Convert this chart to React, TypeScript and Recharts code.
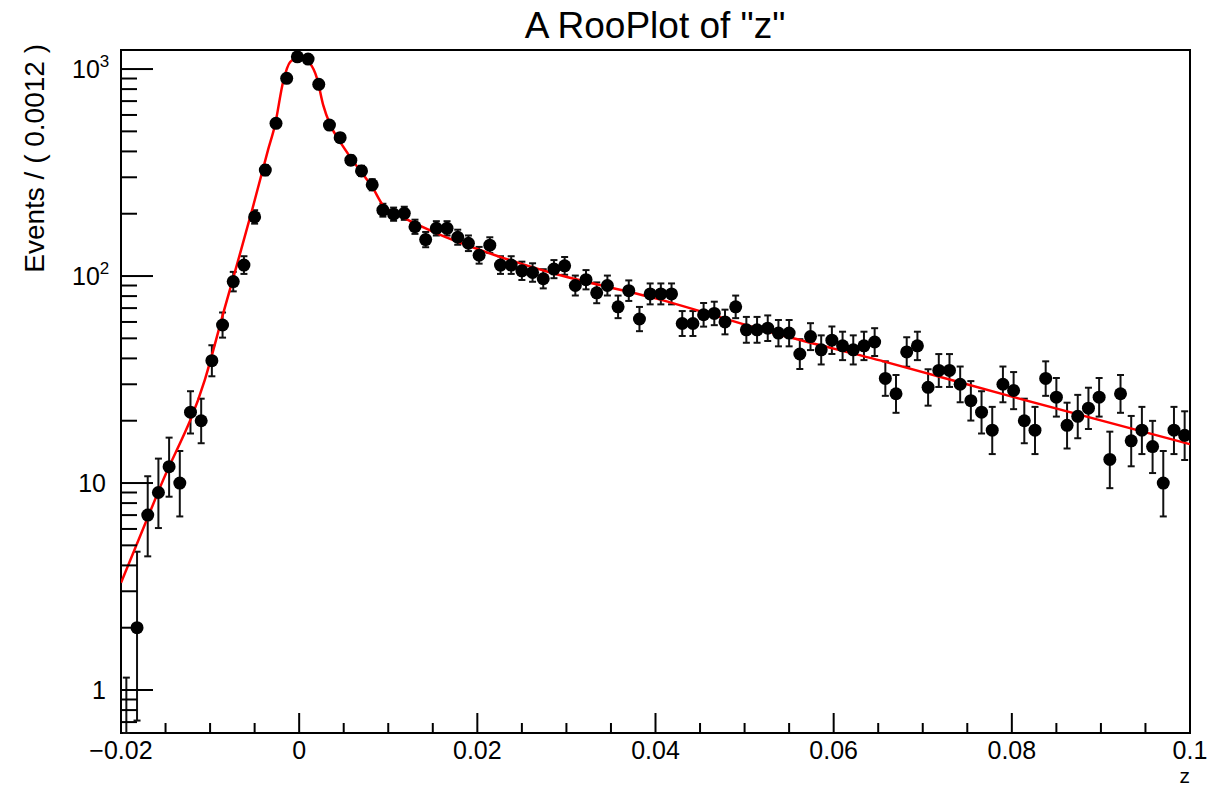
import React from 'react';
import { ComposedChart, XAxis, YAxis, Scatter, Line, ErrorBar, ReferenceArea } from 'recharts';

const FONT = '"Liberation Sans", Arial, Helvetica, sans-serif';

const Z_MIN = -0.02;
const Z_MAX = 0.1;
const BIN_WIDTH = 0.0012;
const Y_MIN = 0.62;
const Y_MAX = 1236;

// events per bin, 100 bins of 0.0012 from -0.02 to 0.1
const COUNTS = [
  0, 2, 7, 9, 12, 10, 22, 20, 39, 58,
  94, 113, 193, 325, 547, 902, 1146, 1117, 844, 536,
  466, 363, 322, 276, 208, 199, 201, 173, 150, 170,
  170, 154, 144, 126, 141, 113, 113, 106, 104, 97,
  108, 112, 90, 96, 83, 90, 71, 85, 62, 82,
  82, 82, 59, 59, 65, 66, 60, 71, 55, 55,
  56, 53, 53, 42, 51, 44, 49, 46, 44, 46,
  48, 32, 27, 43, 46, 29, 35, 35, 30, 25,
  22, 18, 30, 28, 20, 18, 32, 26, 19, 21,
  23, 26, 13, 27, 16, 18, 15, 10, 18, 17,
];

// fitted pdf
const FIT_Z = [
  -0.02, -0.0155, -0.0106, -0.0084, -0.0066, -0.0052, -0.0035, -0.0027, -0.0018, -0.001,
  0.0001, 0.0012, 0.002, 0.0027, 0.0035, 0.0046, 0.0061, 0.0083, 0.0094, 0.0113,
  0.015, 0.0225, 0.0282, 0.04, 0.054, 0.0658, 0.0798, 0.1,
];
const FIT_Y = [
  3.3, 9.8, 31.4, 69, 130, 215, 406, 540, 868, 1084,
  1140, 1066, 902, 670, 536, 445, 357, 265, 220, 196,
  164, 124, 104, 78, 52, 38.5, 26.3, 15.4,
];

const X_TICKS = [
  -0.02, -0.015, -0.01, -0.005, 0, 0.005, 0.01, 0.015, 0.02, 0.025, 0.03, 0.035, 0.04,
  0.045, 0.05, 0.055, 0.06, 0.065, 0.07, 0.075, 0.08, 0.085, 0.09, 0.095, 0.1,
];
const X_MAJOR = [-0.02, 0, 0.02, 0.04, 0.06, 0.08, 0.1];
const X_LABELS = ['\u22120.02', '0', '0.02', '0.04', '0.06', '0.08', '0.1'];

const Y_TICKS = [
  0.7, 0.8, 0.9, 1, 2, 3, 4, 5, 6, 7, 8, 9, 10, 20, 30, 40, 50, 60, 70, 80, 90,
  100, 200, 300, 400, 500, 600, 700, 800, 900, 1000,
];
const Y_MAJOR = [1, 10, 100, 1000];
const Y_LABELS = ['1', '10', '10^2', '10^3'];

// 68% poisson interval like RooHistError
function poissonInterval(n: number): [number, number] {
  if (n === 0) return [0, 1.148];
  const lo = n * Math.pow(1 - 1 / (9 * n) - 1 / (3 * Math.sqrt(n)), 3);
  const hi = n + Math.sqrt(n + 0.75) + 1;
  return [lo, hi];
}

const bins = COUNTS.map((n, i) => {
  const [lo, hi] = poissonInterval(n);
  return { z: Z_MIN + BIN_WIDTH * (i + 0.5), n, lo, hi };
});

const pointData = bins
  .filter((b) => b.n > 0)
  .map((b) => ({ z: b.z, y: b.n, err: [b.n - b.lo, b.hi - b.n] }));

// empty bins: only the upper error bar is visible on a log axis
const emptyData = bins
  .filter((b) => b.n === 0)
  .map((b) => ({ z: b.z, y: Y_MIN, err: [0, b.hi - Y_MIN] }));

const fitData = FIT_Z.map((z, i) => ({ z, y: FIT_Y[i] }));

const Dot = (p: any) => <circle cx={p.cx} cy={p.cy} r={6.5} fill="#000" />;
const NoDot = () => <g />;

const XTick = (p: any) => {
  const { x, y, payload } = p;
  const k = X_MAJOR.findIndex((m) => Math.abs(m - payload.value) < 1e-9);
  const major = k >= 0;
  return (
    <g>
      <line x1={x} x2={x} y1={y} y2={y - (major ? 20 : 10)} stroke="#000" strokeWidth={2} />
      {major && (
        <text x={x} y={y + 26} textAnchor="middle" fontSize={25} fontFamily={FONT} fill="#000">
          {X_LABELS[k]}
        </text>
      )}
    </g>
  );
};

const YTick = (p: any) => {
  const { x, y, payload } = p;
  const k = Y_MAJOR.indexOf(payload.value);
  const major = k >= 0;
  let label = null;
  if (major) {
    const txt = Y_LABELS[k];
    if (txt.includes('^')) {
      const [base, exp] = txt.split('^');
      label = (
        <text x={x - 49} y={y + 9} textAnchor="start" fontSize={25} fontFamily={FONT} fill="#000">
          {base}
          <tspan dy={-11} fontSize={17}>{exp}</tspan>
        </text>
      );
    } else {
      label = (
        <text x={x - 15} y={y + 9} textAnchor="end" fontSize={25} fontFamily={FONT} fill="#000">
          {txt}
        </text>
      );
    }
  }
  return (
    <g>
      <line x1={x} x2={x + (major ? 32 : 16)} y1={y} y2={y} stroke="#000" strokeWidth={2} />
      {label}
    </g>
  );
};

export default function App() {
  return (
    <div style={{ position: 'absolute', left: 0, top: 0, width: 1212, height: 791, background: '#fff' }}>
      <ComposedChart width={1212} height={791} margin={{ top: 50, right: 22, bottom: 0, left: 0 }}>
        <XAxis
          type="number"
          dataKey="z"
          domain={[Z_MIN, Z_MAX]}
          allowDataOverflow
          ticks={X_TICKS}
          interval={0}
          tick={(p: any) => <XTick {...p} />}
          tickLine={false}
          axisLine={false}
          tickSize={0}
          tickMargin={0}
          height={58}
        />
        <YAxis
          type="number"
          dataKey="y"
          scale="log"
          domain={[Y_MIN, Y_MAX]}
          allowDataOverflow
          ticks={Y_TICKS}
          interval={0}
          tick={(p: any) => <YTick {...p} />}
          tickLine={false}
          axisLine={false}
          tickSize={0}
          tickMargin={0}
          width={121}
        />
        <Scatter data={emptyData} dataKey="y" shape={NoDot} isAnimationActive={false}>
          <ErrorBar dataKey="err" direction="y" width={3.5} strokeWidth={2} stroke="#111" />
        </Scatter>
        <Scatter data={pointData} dataKey="y" shape={Dot} isAnimationActive={false}>
          <ErrorBar dataKey="err" direction="y" width={3.5} strokeWidth={2} stroke="#111" />
        </Scatter>
        <Line
          data={fitData}
          dataKey="y"
          type="monotone"
          stroke="#ff0000"
          strokeWidth={2.5}
          dot={false}
          activeDot={false}
          isAnimationActive={false}
        />
        <ReferenceArea
          x1={Z_MIN}
          x2={Z_MAX}
          y1={Y_MIN}
          y2={Y_MAX}
          fill="none"
          fillOpacity={0}
          stroke="#000"
          strokeWidth={2}
          ifOverflow="visible"
        />
      </ComposedChart>
      <svg width={1212} height={791} style={{ position: 'absolute', left: 0, top: 0, pointerEvents: 'none' }}>
        <text x={655} y={38} textAnchor="middle" fontSize={37} fontFamily={FONT} fill="#000">
          A RooPlot of "z"
        </text>
        <text
          x={44}
          y={44}
          transform="rotate(-90 44 44)"
          textAnchor="end"
          fontSize={28}
          fontFamily={FONT}
          fill="#000"
        >
          Events / ( 0.0012 )
        </text>
        <text x={1190} y={783} textAnchor="end" fontSize={21} fontFamily={FONT} fill="#000">
          z
        </text>
      </svg>
    </div>
  );
}
